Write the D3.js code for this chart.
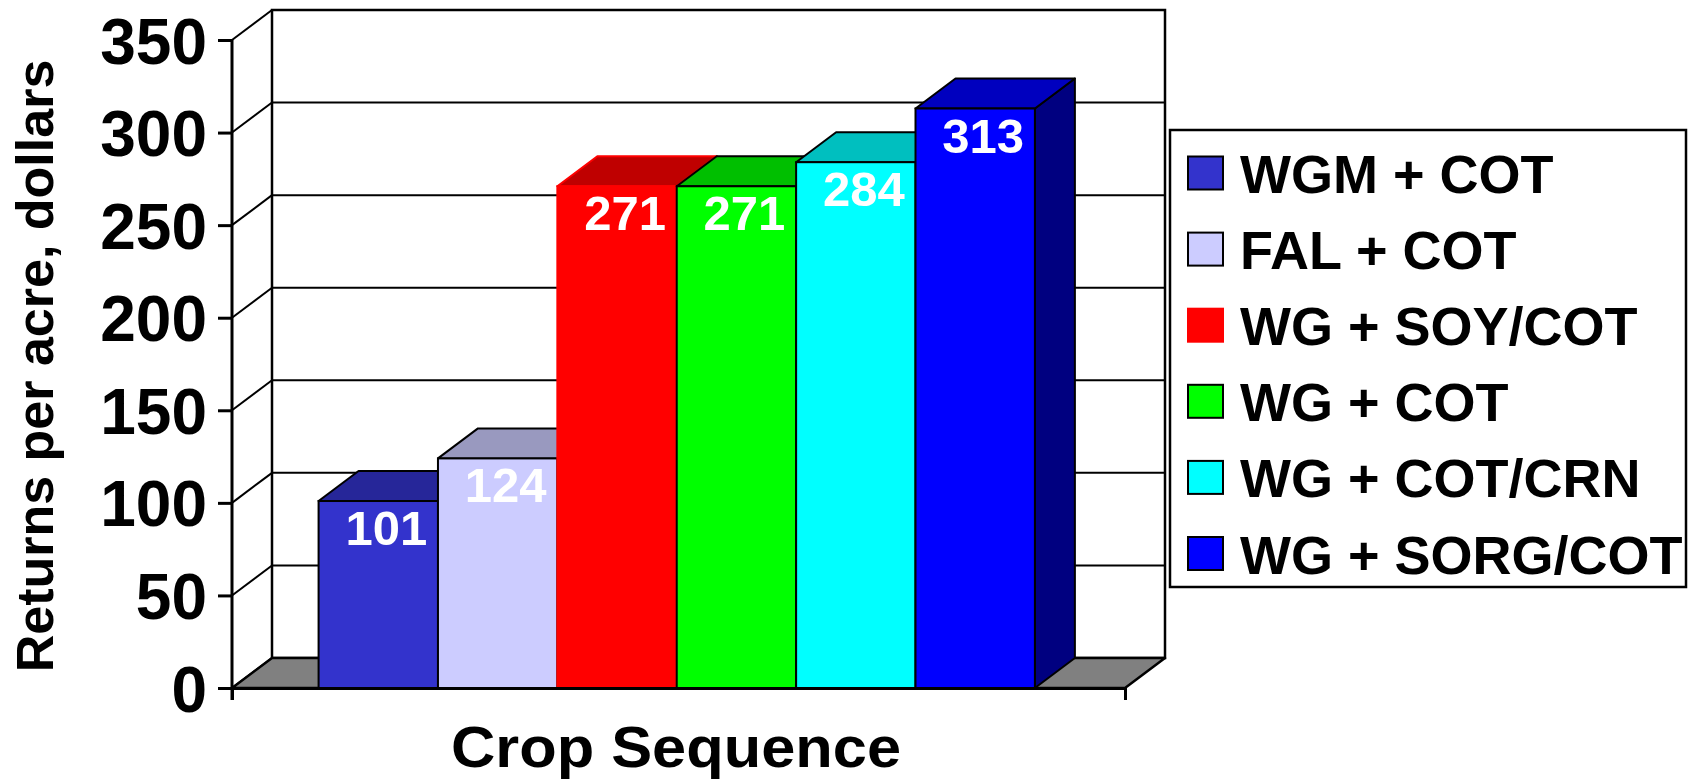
<!DOCTYPE html>
<html>
<head>
<meta charset="utf-8">
<script src="https://cdn.jsdelivr.net/npm/d3@7"></script>
<style>
  body { margin: 0; background: #fff; }
  text { font-family: Arial, "Liberation Sans", sans-serif; font-weight: bold; }
</style>
</head>
<body>
<div id="chart"></div>
<script>
// chart data
let series = ['WGM + COT', 'FAL + COT', 'WG + SOY/COT', 'WG + COT', 'WG + COT/CRN', 'WG + SORG/COT']
let values = [101, 124, 271, 271, 284, 313]
let colors = ['#3333cc', '#ccccff', '#ff0000', '#00ff00', '#00ffff', '#0000ff']
let yTicks = [0, 50, 100, 150, 200, 250, 300, 350]

let W = 1688, H = 781
// 3d depth offset
let dx = 40, dy = 30

let plot = { left: 232, right: 1125, top: 40, bottom: 688 }

let svg = d3.select('#chart')
    .append('svg')
    .attr('width', W)
    .attr('height', H)

let y = d3.scaleLinear()
    .domain([0, 350])
    .range([plot.bottom, plot.top])

let x = d3.scaleBand()
    .domain(series)
    .range([plot.left, plot.right])
    .paddingInner(0)
    .paddingOuter(0.74)
    .align(0.49)

let shade = (c, k) => {
    let r = d3.rgb(c)
    return d3.rgb(r.r * k, r.g * k, r.b * k).formatHex()
}
// red series has no black outline in the original
let edge = c => c == '#ff0000' ? c : '#000'

// back wall
svg.append('rect')
    .attr('x', plot.left + dx)
    .attr('y', y(350) - dy)
    .attr('width', plot.right - plot.left)
    .attr('height', y(0) - y(350))
    .attr('fill', '#fff')
    .attr('stroke', '#000')
    .attr('stroke-width', 2.5)

// gridlines on back wall + left wall
svg.append('g')
    .selectAll('line')
    .data(yTicks.filter(d => d > 0 && d < 350))
    .join('line')
    .attr('x1', plot.left + dx)
    .attr('x2', plot.right + dx)
    .attr('y1', d => y(d) - dy)
    .attr('y2', d => y(d) - dy)
    .attr('stroke', '#000')
    .attr('stroke-width', 2)

svg.append('g')
    .selectAll('line')
    .data(yTicks)
    .join('line')
    .attr('x1', plot.left)
    .attr('x2', plot.left + dx)
    .attr('y1', d => y(d))
    .attr('y2', d => y(d) - dy)
    .attr('stroke', '#000')
    .attr('stroke-width', 2)

// floor
svg.append('path')
    .attr('d', `M${plot.left},${y(0)} L${plot.right},${y(0)} L${plot.right + dx},${y(0) - dy} L${plot.left + dx},${y(0) - dy} Z`)
    .attr('fill', '#808080')
    .attr('stroke', '#000')
    .attr('stroke-width', 2.5)
    .attr('stroke-linejoin', 'round')

// bars, left to right so the next front face hides the previous side
let data = series.map((s, i) => ({ key: s, value: values[i], color: colors[i] }))

let bars = svg.append('g')
    .selectAll('.bar-group')
    .data(data)
    .join('g')
    .attr('class', 'bar-group')

bars.each(function (d) {
    let g = d3.select(this)
    let x0 = x(d.key), x1 = x0 + x.bandwidth()
    let yt = y(d.value), yb = y(0)
    g.append('path') // side
        .attr('d', `M${x1},${yb} L${x1 + dx},${yb - dy} L${x1 + dx},${yt - dy} L${x1},${yt} Z`)
        .attr('fill', shade(d.color, 0.5))
        .attr('stroke', edge(d.color))
        .attr('stroke-width', 2)
        .attr('stroke-linejoin', 'round')
    g.append('path') // top
        .attr('d', `M${x0},${yt} L${x0 + dx},${yt - dy} L${x1 + dx},${yt - dy} L${x1},${yt} Z`)
        .attr('fill', shade(d.color, 0.75))
        .attr('stroke', edge(d.color))
        .attr('stroke-width', 2)
        .attr('stroke-linejoin', 'round')
    g.append('rect') // front
        .attr('x', x0)
        .attr('y', yt)
        .attr('width', x.bandwidth())
        .attr('height', yb - yt)
        .attr('fill', d.color)
        .attr('stroke', edge(d.color))
        .attr('stroke-width', 2)
})

bars.append('text')
    .text(d => d.value)
    .attr('x', d => x(d.key) + x.bandwidth() / 2 + 8)
    .attr('y', d => y(d.value) + 44)
    .attr('text-anchor', 'middle')
    .attr('fill', '#fff')
    .style('font-size', '49px')

// y axis
let yAxis = svg.append('g')
    .attr('transform', `translate(${plot.left}, 0)`)
    .call(d3.axisLeft(y).tickValues(yTicks).tickSize(14).tickSizeOuter(0).tickPadding(11))
yAxis.select('.domain')
    .attr('d', `M0,${y(350)} V${y(0) + 12}`)
    .attr('stroke-width', 3)
yAxis.selectAll('.tick line').attr('stroke-width', 3)
yAxis.selectAll('text')
    .attr('fill', '#000')
    .attr('dy', '0.36em')
    .style('font-size', '64px')
    .style('font-family', 'Arial, "Liberation Sans", sans-serif')
    .style('font-weight', 'bold')

// x axis, ticks only at the two ends
let xEnds = d3.scaleLinear().domain([0, 1]).range([plot.left, plot.right])
let xAxis = svg.append('g')
    .attr('transform', `translate(0, ${y(0)})`)
    .call(d3.axisBottom(xEnds).tickValues([0, 1]).tickSize(12).tickSizeOuter(0).tickFormat(''))
xAxis.select('.domain').attr('stroke-width', 3)
xAxis.selectAll('.tick line').attr('stroke-width', 3)

// axis titles
svg.append('text')
    .attr('x', 676)
    .attr('y', 767)
    .attr('text-anchor', 'middle')
    .attr('textLength', 450)
    .attr('lengthAdjust', 'spacingAndGlyphs')
    .style('font-size', '57px')
    .text('Crop Sequence')

svg.append('text')
    .attr('transform', 'translate(53, 366) rotate(-90)')
    .attr('text-anchor', 'middle')
    .style('font-size', '52px')
    .text('Returns per acre, dollars')

// legend
let legend = svg.append('g')
legend.append('rect')
    .attr('x', 1170)
    .attr('y', 130)
    .attr('width', 516)
    .attr('height', 457)
    .attr('fill', '#fff')
    .attr('stroke', '#000')
    .attr('stroke-width', 2.5)

let rows = legend.selectAll('.row')
    .data(data)
    .join('g')
    .attr('class', 'row')
    .attr('transform', (d, i) => `translate(1188, ${173 + i * 76.1})`)

rows.append('rect')
    .attr('x', 0)
    .attr('y', -16.5)
    .attr('width', 35)
    .attr('height', 33)
    .attr('fill', d => d.color)
    .attr('stroke', d => edge(d.color))
    .attr('stroke-width', 2)

rows.append('text')
    .attr('x', 52)
    .attr('y', 20)
    .style('font-size', '54px')
    .text(d => d.key)
</script>
</body>
</html>
